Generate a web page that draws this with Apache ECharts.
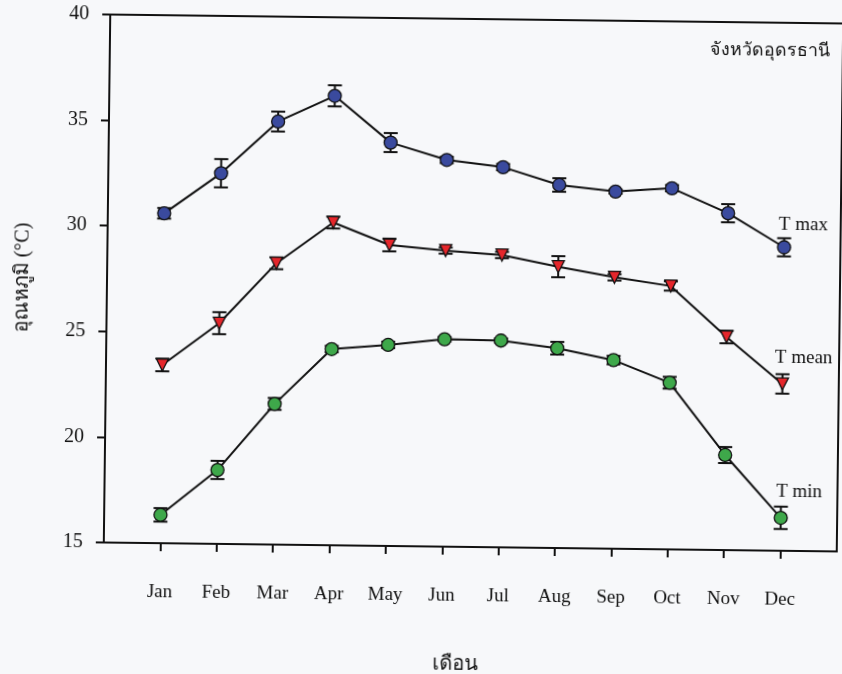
<!DOCTYPE html>
<html>
<head>
<meta charset="utf-8">
<title>อุณหภูมิรายเดือน จังหวัดอุดรธานี</title>
<script src="https://cdn.jsdelivr.net/npm/echarts@6/dist/echarts.min.js"></script>
<style>
  html, body { margin: 0; padding: 0; background: #f7f8fa; overflow: hidden; }
  /* the printed figure sits slightly turned on the page */
  #chart { width: 842px; height: 674px; transform: rotate(0.7deg); transform-origin: 474px 283px; }
</style>
</head>
<body>
<div id="chart"></div>
<script>
// Monthly temperatures (°C) with error bars, Udon Thani province
const months = ['Jan', 'Feb', 'Mar', 'Apr', 'May', 'Jun', 'Jul', 'Aug', 'Sep', 'Oct', 'Nov', 'Dec'];

const tMax     = [30.62, 32.55, 35.03, 36.28, 34.10, 33.31, 33.00, 32.19, 31.91, 32.10, 30.95, 29.37];
const tMaxErr  = [0.25, 0.67, 0.47, 0.50, 0.45, 0.15, 0.15, 0.32, 0.10, 0.15, 0.43, 0.43];

const tMean    = [23.44, 25.45, 28.32, 30.28, 29.25, 29.02, 28.84, 28.32, 27.85, 27.47, 25.09, 22.90];
const tMeanErr = [0.30, 0.52, 0.28, 0.28, 0.30, 0.15, 0.15, 0.50, 0.15, 0.22, 0.30, 0.46];

const tMin     = [16.34, 18.50, 21.66, 24.29, 24.52, 24.82, 24.79, 24.46, 23.93, 22.89, 19.50, 16.56];
const tMinErr  = [0.32, 0.43, 0.28, 0.15, 0.15, 0.10, 0.10, 0.30, 0.20, 0.28, 0.38, 0.53];

const yTicks = [15, 20, 25, 30, 35, 40];
const seriesNames = ['T max', 'T mean', 'T min'];

const SERIF = "'Liberation Serif', 'Times New Roman', serif";
const THAI = "'Liberation Serif', 'Noto Sans', 'DejaVu Sans', sans-serif";
const INK = '#111111';

const monthPos = months.map((m, i) => i + 1);
const toPoints = vals => vals.map((v, i) => [i + 1, v]);
const toErr = (vals, errs) => vals.map((v, i) => [i + 1, v - errs[i], v + errs[i]]);

function errorBars(name, vals, errs) {
  return {
    type: 'custom',
    name: name + ' SE',
    z: 1,
    silent: true,
    data: toErr(vals, errs),
    encode: { x: 0, y: [1, 2] },
    renderItem(params, api) {
      const x = api.value(0);
      const lo = api.coord([x, api.value(1)]);
      const hi = api.coord([x, api.value(2)]);
      const cap = 7;
      const style = { stroke: INK, lineWidth: 2 };
      return {
        type: 'group',
        children: [
          { type: 'line', shape: { x1: lo[0], y1: lo[1], x2: hi[0], y2: hi[1] }, style },
          { type: 'line', shape: { x1: lo[0] - cap, y1: lo[1], x2: lo[0] + cap, y2: lo[1] }, style },
          { type: 'line', shape: { x1: hi[0] - cap, y1: hi[1], x2: hi[0] + cap, y2: hi[1] }, style }
        ]
      };
    }
  };
}

function lineSeries(name, vals, symbol, color, size, rotate, labelOffset) {
  const pts = toPoints(vals).map((p, i, arr) => {
    if (i !== arr.length - 1) return p;
    return {
      value: p,
      label: {
        show: true,
        position: 'inside',
        offset: labelOffset,
        formatter: name,
        color: INK,
        fontFamily: SERIF,
        fontSize: 19
      }
    };
  });
  return {
    type: 'line',
    name,
    z: 2,
    data: pts,
    symbol,
    symbolSize: size,
    symbolRotate: rotate,
    showSymbol: true,
    lineStyle: { color: INK, width: 2 },
    itemStyle: { color, borderColor: INK, borderWidth: 1.3 },
    label: { show: false },
    emphasis: { disabled: true },
    animation: false
  };
}

const chart = echarts.init(document.getElementById('chart'), null, { renderer: 'canvas' });

chart.setOption({
  backgroundColor: 'transparent',
  animation: false,
  title: {
    text: 'จังหวัดอุดรธานี',
    right: 10,
    top: 33,
    textStyle: { fontFamily: THAI, fontSize: 18, fontWeight: 'normal', color: INK }
  },
  grid: {
    left: 107,
    top: 19,
    width: 733,
    height: 528,
    outerBoundsMode: 'none',
    show: true,
    borderColor: INK,
    borderWidth: 2,
    backgroundColor: 'transparent'
  },
  xAxis: {
    type: 'value',
    min: 0,
    max: 13,
    interval: 1,
    name: 'เดือน',
    nameLocation: 'middle',
    nameGap: 108,
    nameTextStyle: { fontFamily: THAI, fontSize: 20, color: INK, padding: [0, 28, 0, 0] },
    axisLine: { show: true, lineStyle: { color: INK, width: 2 } },
    axisTick: { show: true, length: 8, inside: false, customValues: monthPos, lineStyle: { color: INK, width: 2 } },
    axisLabel: {
      customValues: monthPos,
      formatter: v => months[v - 1] || '',
      margin: 40,
      fontFamily: SERIF,
      fontSize: 19,
      color: INK
    },
    splitLine: { show: false }
  },
  yAxis: {
    type: 'value',
    min: yTicks[0],
    max: yTicks[yTicks.length - 1],
    interval: 5,
    name: 'อุณหภูมิ (°C)',
    nameLocation: 'middle',
    nameGap: 74,
    nameRotate: 90,
    nameTextStyle: { fontFamily: THAI, fontSize: 20, color: INK },
    axisLine: { show: true, lineStyle: { color: INK, width: 2 } },
    axisTick: { show: true, length: 8, inside: false, lineStyle: { color: INK, width: 2 } },
    axisLabel: { margin: 21, fontFamily: SERIF, fontSize: 20, color: INK },
    splitLine: { show: false }
  },
  series: [
    errorBars(seriesNames[0], tMax, tMaxErr),
    errorBars(seriesNames[1], tMean, tMeanErr),
    errorBars(seriesNames[2], tMin, tMinErr),
    lineSeries(seriesNames[0], tMax, 'circle', '#3a4a9e', 13, 0, [19, -22]),
    lineSeries(seriesNames[1], tMean, 'triangle', '#e5262b', 12, 180, [21, -26]),
    lineSeries(seriesNames[2], tMin, 'circle', '#3ea84a', 13, 0, [18, -26])
  ]
});
</script>
</body>
</html>
